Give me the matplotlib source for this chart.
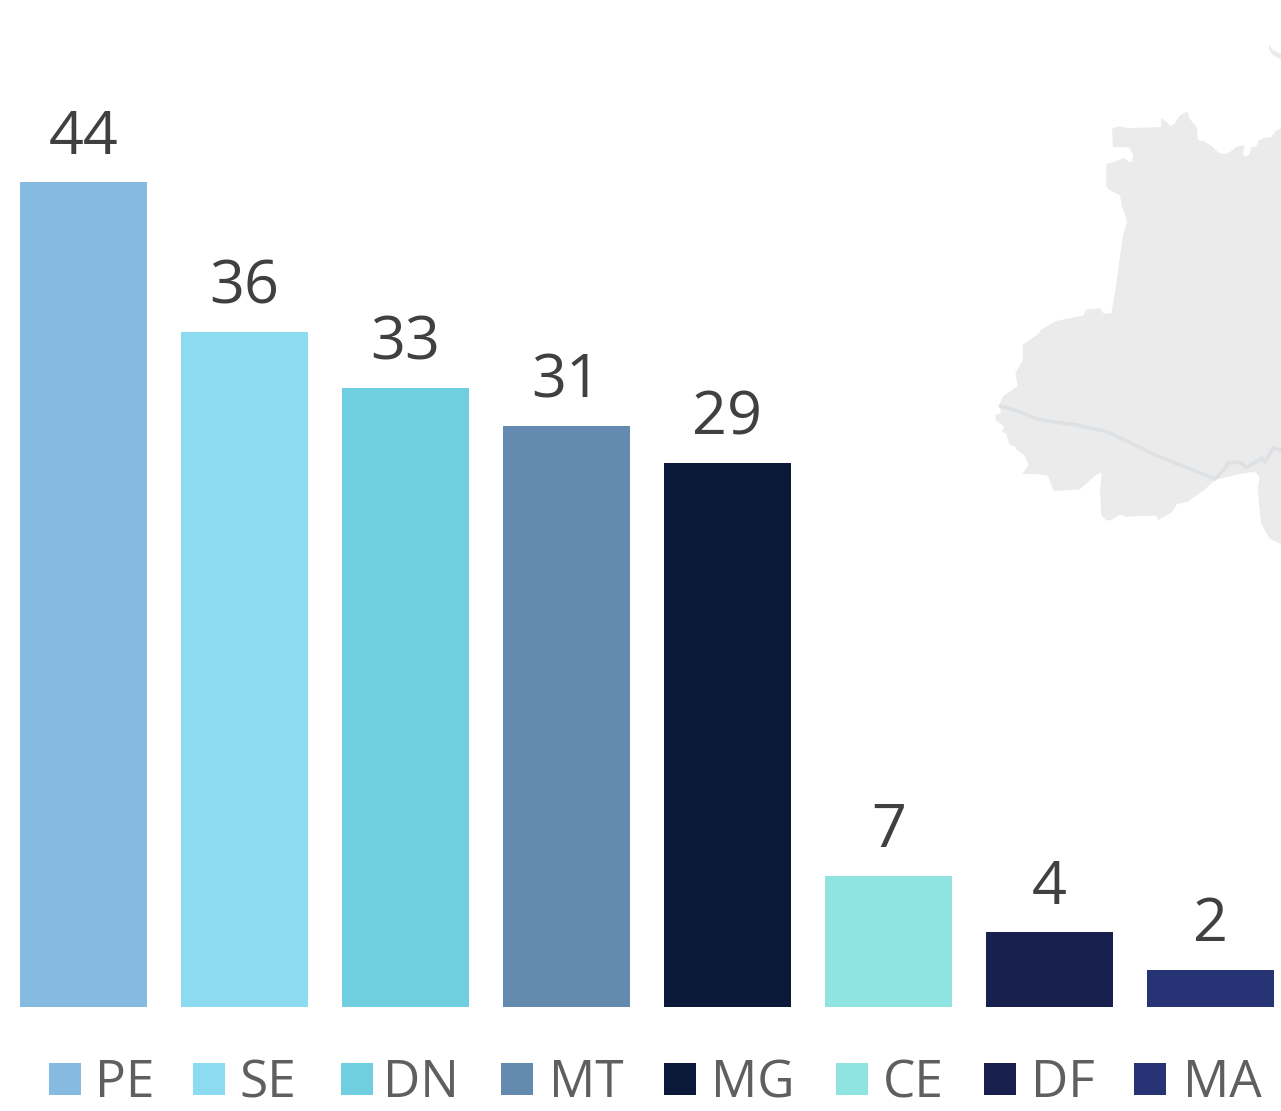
import matplotlib
matplotlib.use("Agg")
import matplotlib.pyplot as plt
from matplotlib.patches import Polygon, Rectangle

categories = ["PE", "SE", "DN", "MT", "MG", "CE", "DF", "MA"]
values = [44, 36, 33, 31, 29, 7, 4, 2]
colors = ["#85BBE0", "#8CDBF0", "#6FCEE0", "#648BAF", "#0B1939", "#8FE4E2", "#18204F", "#263375"]

W, H = 1281, 1111
FONT = "Open Sans"
fig = plt.figure(figsize=(W / 100, H / 100), dpi=100, facecolor="white")

# Background map and legend live in a pixel-coordinate overlay
bg = fig.add_axes([0, 0, 1, 1], zorder=0)
bg.set_xlim(0, W)
bg.set_ylim(H, 0)
bg.axis("off")

z1 = [(398,296),(420,291),(445,296),(545,293),(546,266),(560,280),(572,290),(585,283),(600,258),(622,247),
      (628,268),(650,295),(652,332),(670,335),(695,350),(715,370),(735,374),(755,365),(770,352),(792,348),
      (786,378),(800,381),(810,374),(815,355),(830,350),(838,332),(862,323),(872,325),(890,303),(903,297)]
z2 = [(903,760),(870,745),(845,700),(835,600),(840,560),(825,543),(770,552),(705,568),(670,600),(620,635),
      (590,640),(575,665),(535,688),(530,675),(440,678),(420,672),(390,690),(378,688),(365,675),(362,600),
      (367,543),(345,555),(298,597),(222,601),(205,555),(165,550),(130,550),(148,525),(135,495),(110,478),
      (110,470),(90,462),(80,430),(68,423),(75,410),(50,390),(47,377),(65,370),(60,345),(70,320),(115,290),
      (108,250),(130,210),(130,165),(180,130),(182,122),(228,95),(275,85),(312,78),(320,60),(360,57),
      (370,72),(395,72),(408,0)]
z3 = [(430,620),(443,575),(425,520),(422,495),(385,475),(380,465),(381,403),(410,395),(432,385),(445,397),
      (458,397),(461,375),(448,350),(400,350)]
river = [(62,348),(120,365),(160,383),(180,389),(290,405),(380,425),(450,458),(530,497),(705,567),(740,530),
         (742,518),(780,517),(798,532),(830,515),(845,505),(855,517),(870,490),(882,472),(895,480),(903,478)]
corner = [(868,45),(875,60),(903,72),(903,87),(880,75),(868,58)]

top = lambda p: (980 + p[0] / 3, 30 + p[1] / 3)
low = lambda p: (980 + p[0] / 3, 290 + p[1] / 3)
outline = [top(p) for p in z1] + [low(p) for p in z2] + [top(p) for p in z3]
bg.add_patch(Polygon(outline, closed=True, fc="#EBEBEB", ec="#EBEBEB", lw=0.8, joinstyle="round"))
bg.add_patch(Polygon([top(p) for p in corner], closed=True, fc="#EBEBEB", ec="#EBEBEB", lw=0.5))
rx, ry = zip(*[low(p) for p in river])
bg.plot(rx, ry, color="#DDE1E4", lw=2.6, solid_joinstyle="round")

legend_box_x = [49, 193, 341, 501, 664, 835.5, 984, 1134]
legend_text_x = [95.5, 239.5, 383.5, 548.5, 711, 882.5, 1031, 1182.5]
for name, c, bx, tx in zip(categories, colors, legend_box_x, legend_text_x):
    bg.add_patch(Rectangle((bx, 1063), 32, 32, fc=c, ec="none"))
    bg.text(tx, 1097, name, fontsize=37, family=FONT, color="#5F5F5F", va="baseline", ha="left")

# Bars: 18.75 px per unit, 161 px per category, baseline at pixel y=1007
ax = fig.add_axes([3 / W, (H - 1007) / H, (W - 3) / W, 1007 / H], zorder=1)
ax.patch.set_alpha(0)
ax.axis("off")
ax.set_xlim((3 - 83.5) / 161, (W - 83.5) / 161)
ax.set_ylim(0, 1007 / 18.75)
bars = ax.bar(range(len(values)), values, width=127 / 161, color=colors, linewidth=0)
for b, v in zip(bars, values):
    ax.annotate(str(v), (b.get_x() + b.get_width() / 2, v), xytext=(0, 20.4), textcoords="offset points",
                ha="center", va="baseline", fontsize=44, family=FONT, color="#404040")

fig.savefig("out.png", dpi=100, facecolor="white")
